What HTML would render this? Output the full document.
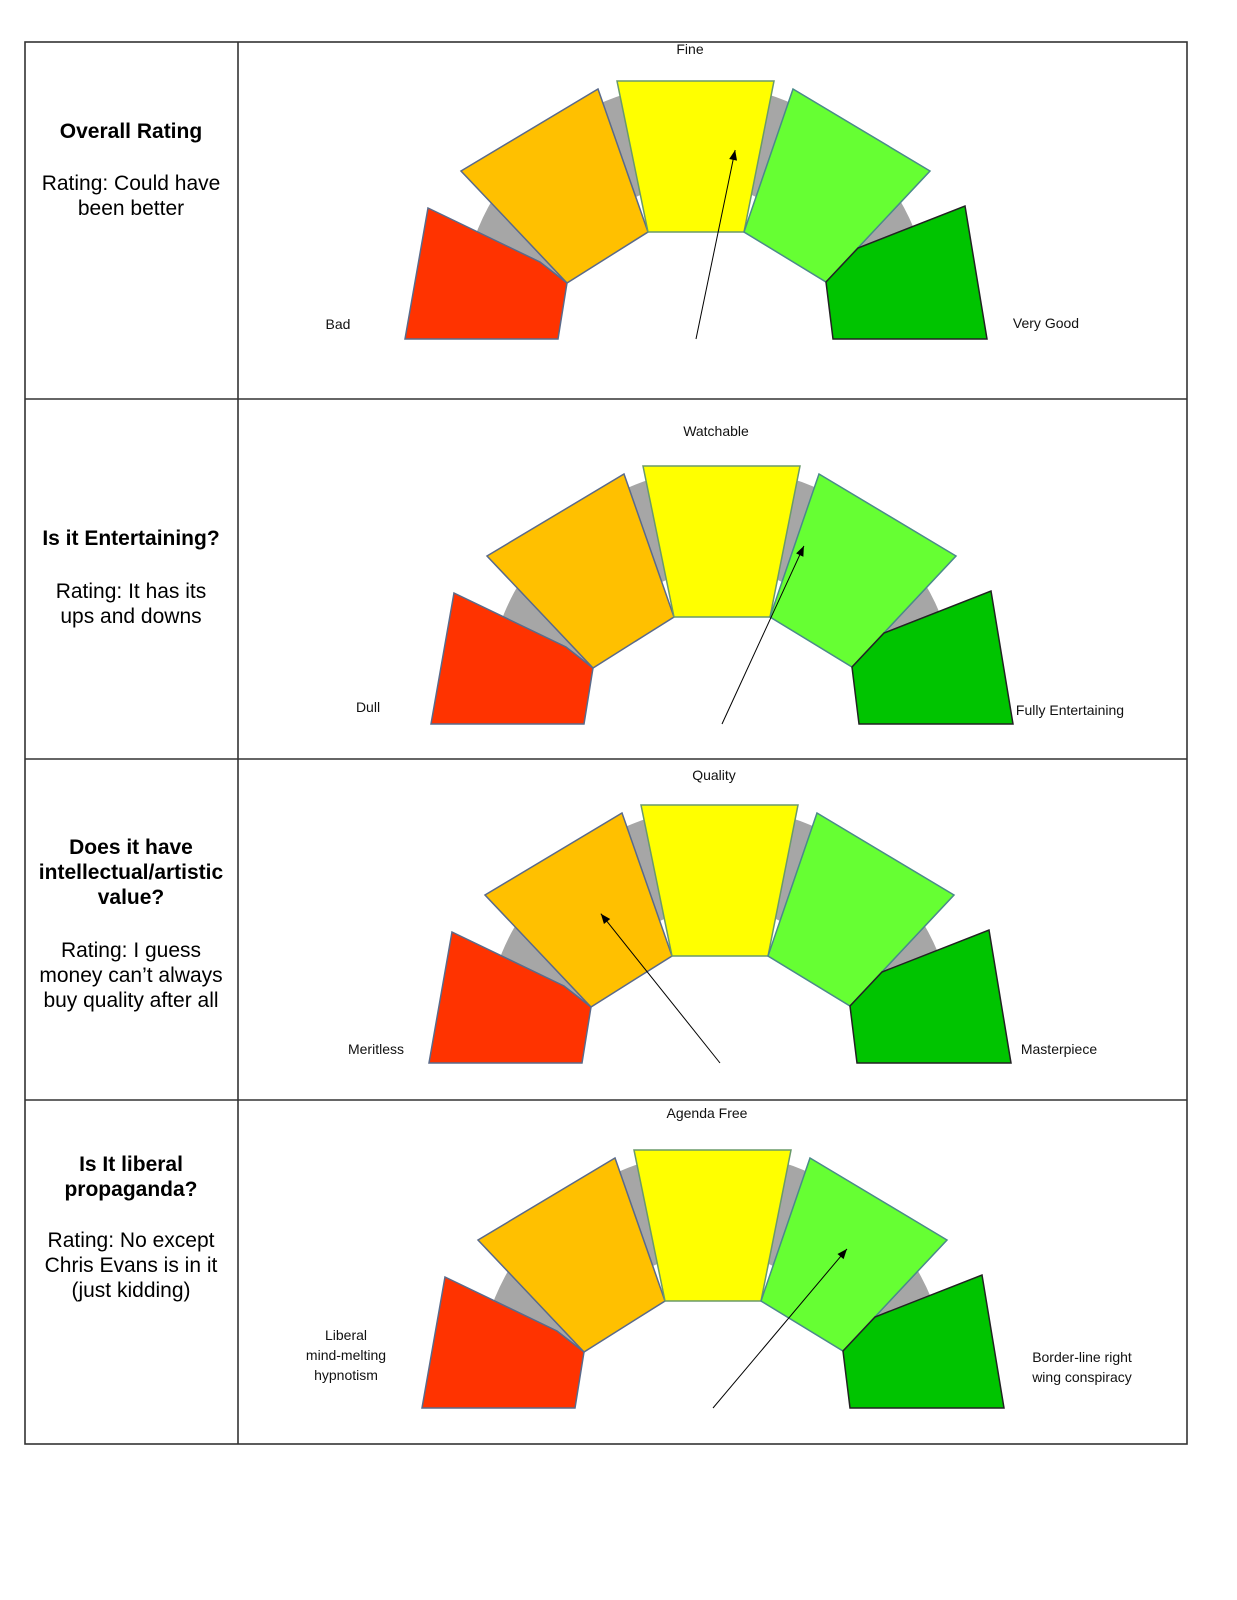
<!DOCTYPE html>
<html><head><meta charset="utf-8"><style>
html,body{margin:0;padding:0;background:#fff;}
svg{display:block;}
.l{font-family:"Liberation Sans",sans-serif;font-size:14px;fill:#111;text-anchor:middle;}
.t{font-family:"Liberation Sans",sans-serif;font-size:21px;fill:#000;text-anchor:middle;}
.b{font-weight:bold;}
</style></head><body>
<svg id="s" width="1237" height="1600" viewBox="0 0 1237 1600">
<g stroke="#333" stroke-width="1.6" fill="none">
<rect x="25" y="42" width="1162" height="1402"/>
<line x1="238" y1="42" x2="238" y2="1444"/>
<line x1="25" y1="399" x2="1187" y2="399"/>
<line x1="25" y1="759" x2="1187" y2="759"/>
<line x1="25" y1="1100" x2="1187" y2="1100"/>
</g>
<g>
<text class="t b" x="131" y="138">Overall Rating</text>
<text class="t" x="131" y="190">Rating: Could have</text>
<text class="t" x="131" y="215">been better</text>
</g>
<g>
<text class="t b" x="131" y="545">Is it Entertaining?</text>
<text class="t" x="131" y="598">Rating: It has its</text>
<text class="t" x="131" y="623">ups and downs</text>
</g>
<g>
<text class="t b" x="131" y="854">Does it have</text>
<text class="t b" x="131" y="879">intellectual/artistic</text>
<text class="t b" x="131" y="904">value?</text>
<text class="t" x="131" y="957">Rating: I guess</text>
<text class="t" x="131" y="982">money can’t always</text>
<text class="t" x="131" y="1007">buy quality after all</text>
</g>
<g>
<text class="t b" x="131" y="1171">Is It liberal</text>
<text class="t b" x="131" y="1196">propaganda?</text>
<text class="t" x="131" y="1247">Rating: No except</text>
<text class="t" x="131" y="1272">Chris Evans is in it</text>
<text class="t" x="131" y="1297">(just kidding)</text>
</g>
<g id="gauges"></g>
</svg>
<script>
// needle values: 0 = far left (worst), 180 = far right (best)
const gaugeNames = ['overall-rating','entertaining','artistic-value','liberal-propaganda'];
const needleValues = [101.7, 114.7, 51.4, 130.1];
const needleLengths = [193, 196, 191, 208];
const topLabels = ['Fine','Watchable','Quality','Agenda Free'];
const leftLabels = [['Bad'],['Dull'],['Meritless'],['Liberal','mind-melting','hypnotism']];
const rightLabels = [['Very Good'],['Fully Entertaining'],['Masterpiece'],['Border-line right','wing conspiracy']];

const centers=[[696,339],[722,724],[720,1063],[713,1408]];
const NS='http://www.w3.org/2000/svg';
const root=document.getElementById('gauges');
function mk(tag,attrs,parent){const e=document.createElementNS(NS,tag);for(const k in attrs)e.setAttribute(k,attrs[k]);parent.appendChild(e);return e;}
const segs=[
 {c:'#ff3300',s:'#5a6a8a',p:[[-268,-131],[-156,-77],[-129,-56],[-138,0],[-291,0]]},
 {c:'#ffc000',s:'#5a6a8a',p:[[-235,-168],[-98,-250],[-48,-107],[-129,-56]]},
 {c:'#ffff00',s:'#6a9a6a',p:[[-79,-258],[78,-258],[48,-107],[-48,-107]]},
 {c:'#66ff33',s:'#4a8a8a',p:[[97,-250],[234,-168],[130,-57],[48,-107]]},
 {c:'#00c400',s:'#222',p:[[269,-133],[291,0],[137,0],[130,-57],[162,-91]]}
];
const lOff=[[-358,-15],[-354,-17],[-344,-14],[-367,-73]];
const rOff=[[350,-16],[348,-14],[339,-14],[369,-51]];
const tOff=[-285,-288,-283,-290];
for(let i=0;i<needleValues.length;i++){
 const [cx,cy]=centers[i];
 const g=mk('g',{},root);
 
 
 const R=236,r=136;
 const arc=mk('path',{d:`M${cx-R} ${cy-20} A${R} ${R} 0 0 1 ${cx+R} ${cy-20} L${cx+r} ${cy-20} A${r} ${r} 0 0 0 ${cx-r} ${cy-20} Z`,fill:'#a6a6a6'},g);
 
 
 segs.forEach((s,j)=>{
  const p=mk('polygon',{points:s.p.map(q=>(cx+q[0])+','+(cy+q[1])).join(' '),fill:s.c,stroke:s.s,'stroke-width':1.5},g);
  
  
 });
 const a=(180-needleValues[i])*Math.PI/180, L=needleLengths[i];
 const ex=cx+L*Math.cos(a), ey=cy-L*Math.sin(a);
 const ln=mk('line',{x1:cx,y1:cy,x2:ex,y2:ey,stroke:'#000','stroke-width':1},g);
 
 
 const ux=Math.cos(a),uy=-Math.sin(a),px=-uy,py=ux;
 const hd=mk('polygon',{points:`${ex},${ey} ${ex-10*ux+4*px},${ey-10*uy+4*py} ${ex-10*ux-4*px},${ey-10*uy-4*py}`,fill:'#000'},g);
 
 
 const tt=mk('text',{class:'l',x:cx-6,y:cy+tOff[i]},g);tt.textContent=topLabels[i];
 
 
 leftLabels[i].forEach((s,k)=>{const t=mk('text',{class:'l',x:cx+lOff[i][0],y:cy+lOff[i][1]+k*20+5},g);t.textContent=s;
  
  });
 rightLabels[i].forEach((s,k)=>{const t=mk('text',{class:'l',x:cx+rOff[i][0],y:cy+rOff[i][1]+k*20+5},g);t.textContent=s;
  
  });
}
</script>
</body></html>
